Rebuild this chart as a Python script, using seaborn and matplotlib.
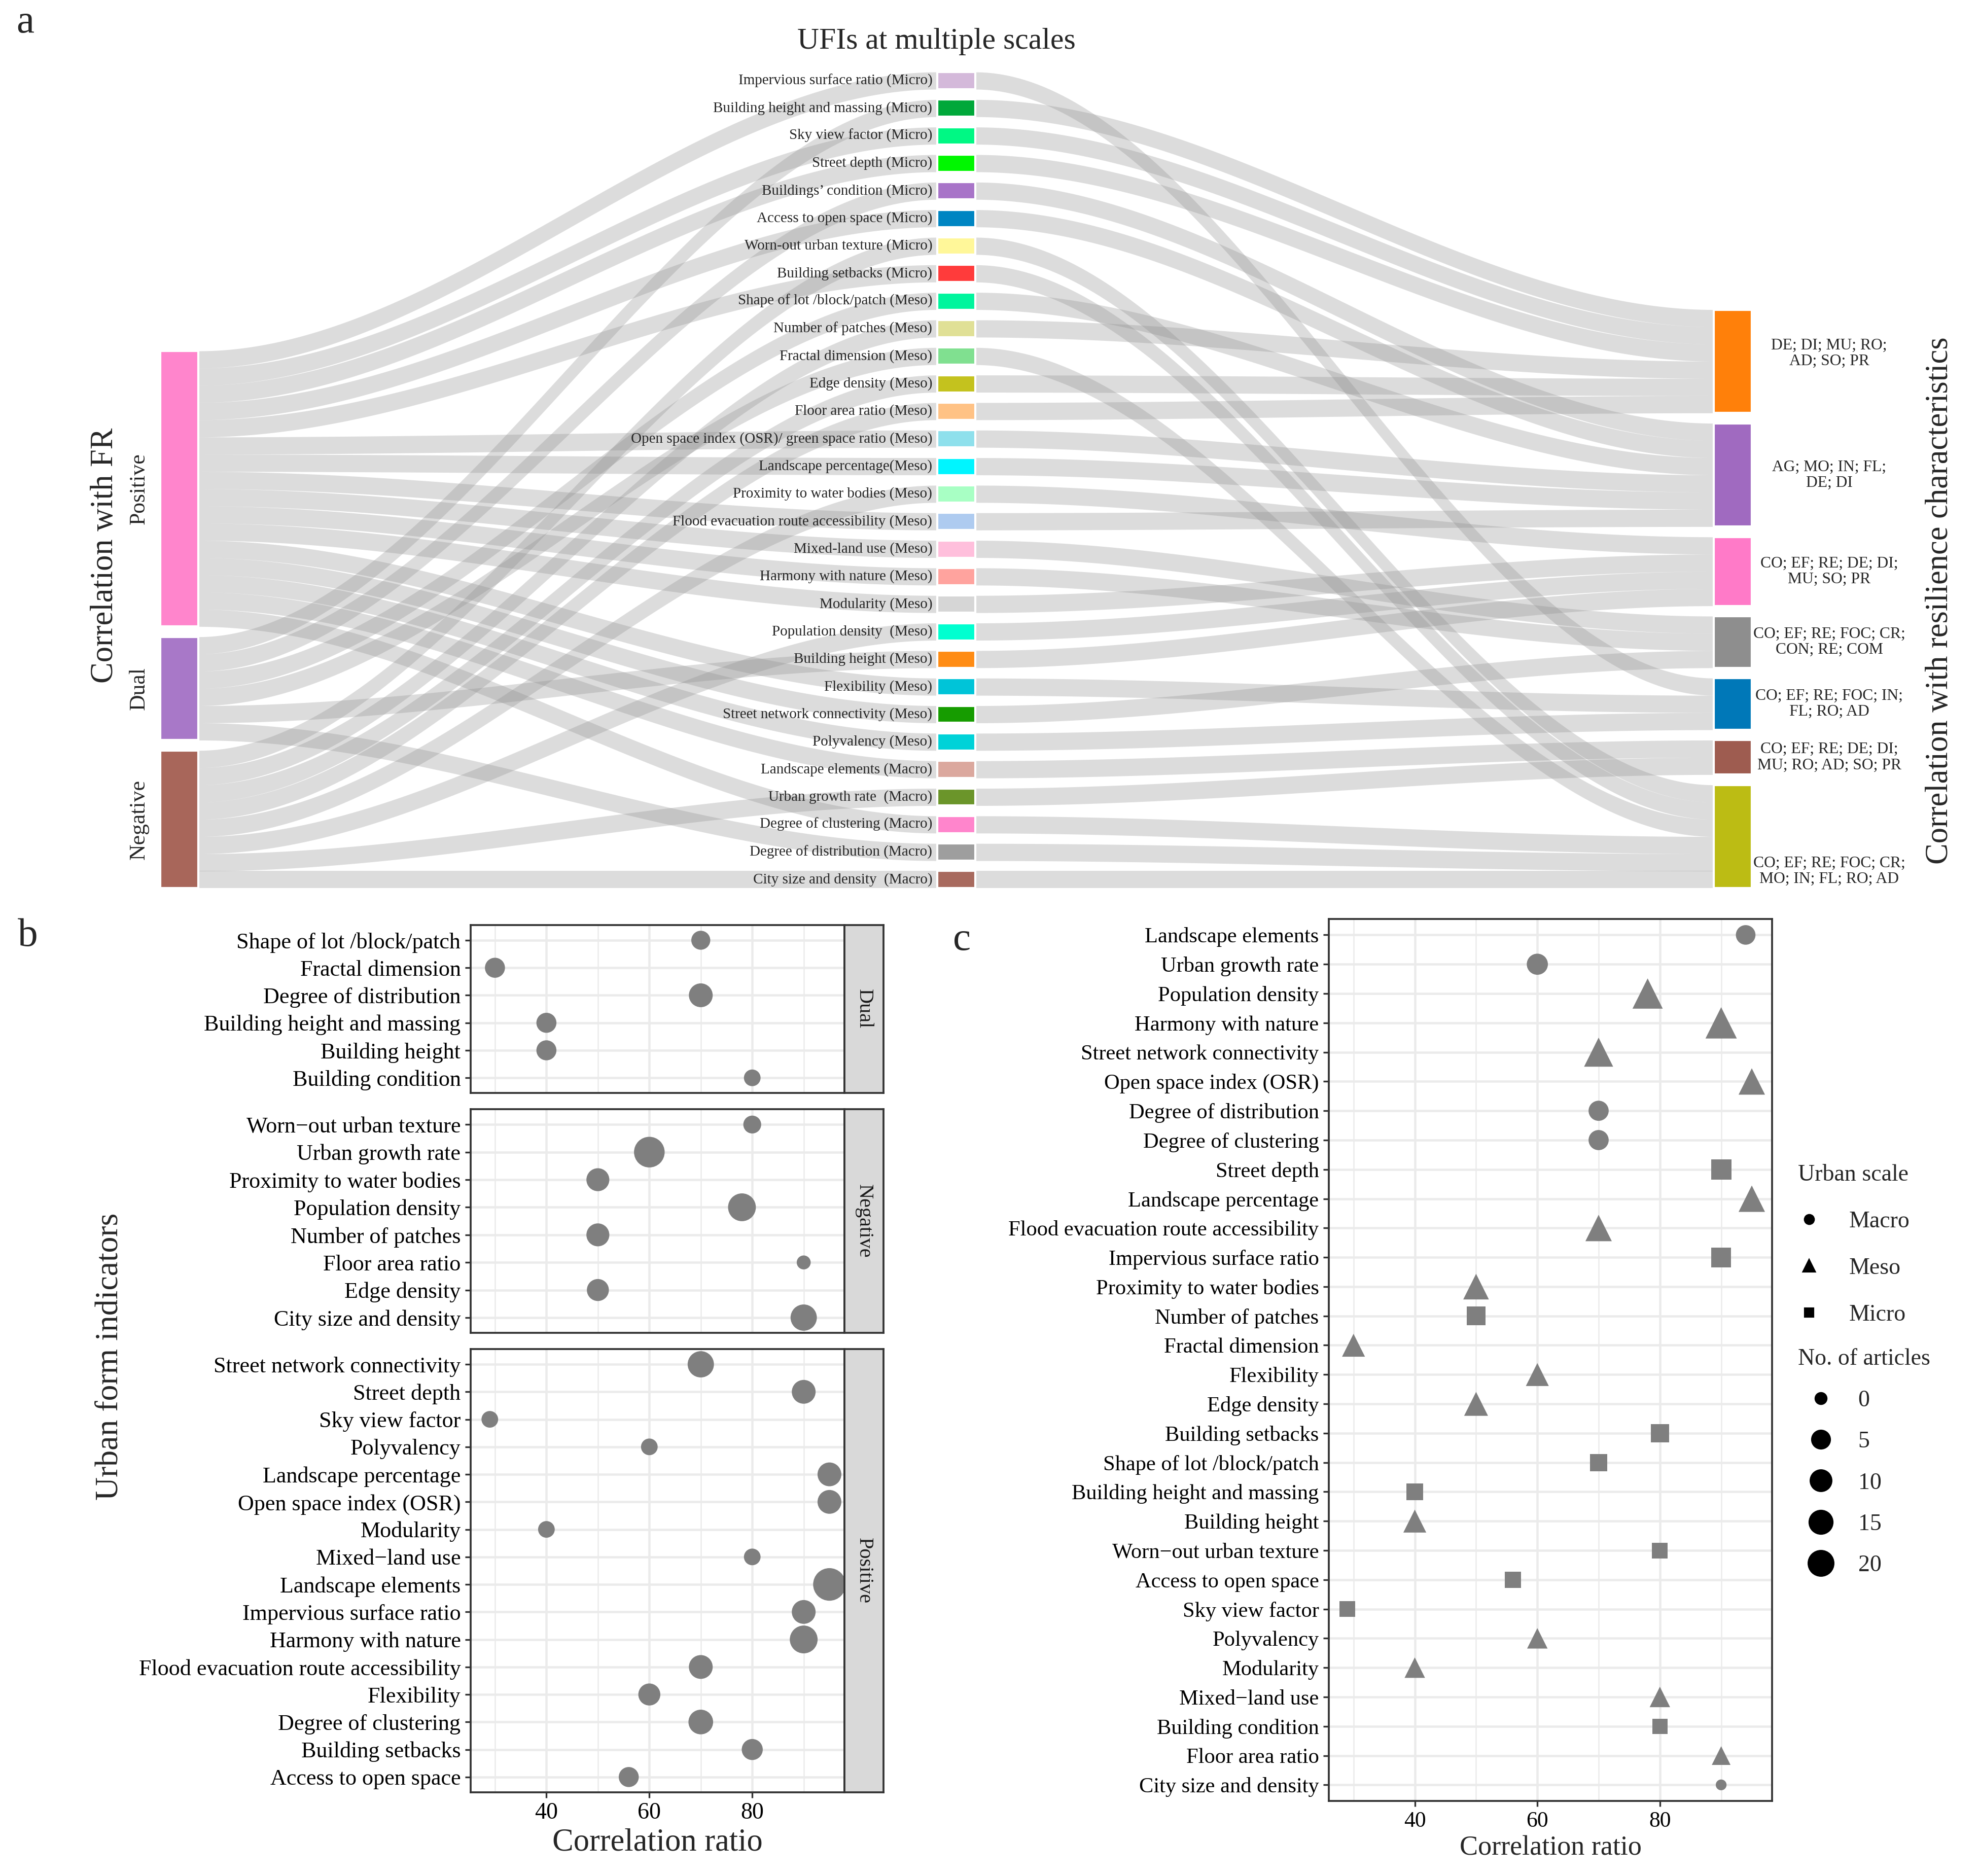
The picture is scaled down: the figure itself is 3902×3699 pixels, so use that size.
import numpy as np
import pandas as pd
import seaborn as sns
import matplotlib.pyplot as plt
from matplotlib.lines import Line2D

# ---------------- panel a : UFIs linked to FR correlation and resilience groups
ufi_labels = [
    'Impervious surface ratio (Micro)', 'Building height and massing (Micro)',
    'Sky view factor (Micro)', 'Street depth (Micro)', 'Buildings\u2019 condition (Micro)',
    'Access to open space (Micro)', 'Worn-out urban texture (Micro)',
    'Building setbacks (Micro)', 'Shape of lot /block/patch (Meso)',
    'Number of patches (Meso)', 'Fractal dimension (Meso)', 'Edge density (Meso)',
    'Floor area ratio (Meso)', 'Open space index (OSR)/ green space ratio (Meso)',
    'Landscape percentage(Meso)', 'Proximity to water bodies (Meso)',
    'Flood evacuation route accessibility (Meso)', 'Mixed-land use (Meso)',
    'Harmony with nature (Meso)', 'Modularity (Meso)', 'Population density  (Meso)',
    'Building height (Meso)', 'Flexibility (Meso)', 'Street network connectivity (Meso)',
    'Polyvalency (Meso)', 'Landscape elements (Macro)', 'Urban growth rate  (Macro)',
    'Degree of clustering (Macro)', 'Degree of distribution (Macro)',
    'City size and density  (Macro)']
ufi_colors = [
    '#d4b9da', '#00a83a', '#00f884', '#00f700', '#a874c8', '#0085c2', '#fff799',
    '#ff3b3b', '#00f59d', '#e0e096', '#80e090', '#c4c21e', '#ffc285', '#8ee0ec',
    '#00f5ff', '#a8ffc4', '#aecbf0', '#ffbfdc', '#ffa39e', '#d6d6d6', '#00ffd0',
    '#ff8c14', '#00c4d8', '#169c00', '#00d2d8', '#dba89e', '#6b952a', '#ff85cc',
    '#9e9e9e', '#a86a5e']
ufi_fr = [
    'Positive', 'Dual', 'Positive', 'Positive', 'Dual', 'Positive', 'Negative',
    'Positive', 'Dual', 'Negative', 'Dual', 'Negative', 'Negative', 'Positive',
    'Positive', 'Negative', 'Positive', 'Positive', 'Positive', 'Positive',
    'Negative', 'Dual', 'Positive', 'Positive', 'Positive', 'Positive', 'Negative',
    'Positive', 'Dual', 'Negative']
ufi_res = [4, 0, 0, 0, 1, 1, 6, 6, 1, 0, 6, 0, 0, 1, 1, 2, 1, 3, 3, 2, 2, 2, 4, 3,
           4, 5, 5, 6, 6, 6]
fr_groups = ['Positive', 'Dual', 'Negative']
fr_colors = ['#ff85cc', '#a878c8', '#a8665a']
res_labels = [
    'DE; DI; MU; RO;\nAD; SO; PR', 'AG; MO; IN; FL;\nDE; DI',
    'CO; EF; RE; DE; DI;\nMU; SO; PR', 'CO; EF; RE; FOC; CR;\nCON; RE; COM',
    'CO; EF; RE; FOC; IN;\nFL; RO; AD', 'CO; EF; RE; DE; DI;\nMU; RO; AD; SO; PR',
    'CO; EF; RE; FOC; CR;\nMO; IN; FL; RO; AD']
res_colors = ['#ff800a', '#a06ac0', '#ff7ac8', '#8e8e8e', '#0078b8', '#9e5c50', '#bcbc14']

# ---------------- panel b : correlation ratio by FR type
dual_items = ['Shape of lot /block/patch', 'Fractal dimension', 'Degree of distribution',
              'Building height and massing', 'Building height', 'Building condition']
dual_ratio = [70, 30, 70, 40, 40, 80]
dual_articles = [5, 6, 10, 6, 6, 3]
neg_items = ['Worn\u2212out urban texture', 'Urban growth rate', 'Proximity to water bodies',
             'Population density', 'Number of patches', 'Floor area ratio', 'Edge density',
             'City size and density']
neg_ratio = [80, 60, 50, 78, 50, 90, 50, 90]
neg_articles = [4, 19, 9, 15, 9, 1, 8, 13]
pos_items = ['Street network connectivity', 'Street depth', 'Sky view factor', 'Polyvalency',
             'Landscape percentage', 'Open space index (OSR)', 'Modularity',
             'Mixed\u2212land use', 'Landscape elements', 'Impervious surface ratio',
             'Harmony with nature', 'Flood evacuation route accessibility', 'Flexibility',
             'Degree of clustering', 'Building setbacks', 'Access to open space']
pos_ratio = [70, 90, 29, 60, 95, 95, 40, 80, 95, 90, 90, 70, 60, 70, 80, 56]
pos_articles = [13, 10, 3, 3, 10, 10, 3, 3, 22, 10, 15, 10, 8, 11, 7, 6]

# ---------------- panel c : correlation ratio by urban scale
c_items = ['Landscape elements', 'Urban growth rate', 'Population density',
           'Harmony with nature', 'Street network connectivity', 'Open space index (OSR)',
           'Degree of distribution', 'Degree of clustering', 'Street depth',
           'Landscape percentage', 'Flood evacuation route accessibility',
           'Impervious surface ratio', 'Proximity to water bodies', 'Number of patches',
           'Fractal dimension', 'Flexibility', 'Edge density', 'Building setbacks',
           'Shape of lot /block/patch', 'Building height and massing', 'Building height',
           'Worn\u2212out urban texture', 'Access to open space', 'Sky view factor',
           'Polyvalency', 'Modularity', 'Mixed\u2212land use', 'Building condition',
           'Floor area ratio', 'City size and density']
c_ratio = [94, 60, 78, 90, 70, 95, 70, 70, 90, 95, 70, 90, 50, 50, 30, 60, 50, 80, 70,
           40, 40, 80, 56, 29, 60, 40, 80, 80, 90, 90]
c_scale = ['Macro', 'Macro', 'Meso', 'Meso', 'Meso', 'Meso', 'Macro', 'Macro', 'Micro',
           'Meso', 'Meso', 'Micro', 'Meso', 'Micro', 'Meso', 'Meso', 'Meso', 'Micro',
           'Micro', 'Micro', 'Meso', 'Micro', 'Micro', 'Micro', 'Meso', 'Meso', 'Meso',
           'Micro', 'Meso', 'Macro']
c_articles = [8, 11, 14, 16, 12, 8, 9, 9, 15, 8, 8, 14, 7, 11, 4, 4, 5, 10, 8, 7, 4, 5,
              6, 5, 2, 2, 2, 4, 1, 0]
scale_levels = ['Macro', 'Meso', 'Micro']
size_breaks = [0, 5, 10, 15, 20]

# ------------------------------------------------------------------ figure
sns.set_theme(style='white')
plt.rcParams['font.family'] = ['Liberation Serif', 'DejaVu Serif']

W, H, DPI = 3902, 3699, 300
SW = 1568.0                        # layout measured on a 1568 px wide preview
SH = H * SW / W
fig = plt.figure(figsize=(W / DPI, H / DPI), dpi=DPI)
fig.patch.set_facecolor('white')


def fbox(x0, y0, x1, y1):
    return [x0 / SW, 1 - y1 / SH, (x1 - x0) / SW, (y1 - y0) / SH]


# ---------------- panel a
ax_a = fig.add_axes(fbox(0, 40, SW, 712))
ax_a.axis('off')
gap = 0.6
node_w = 0.049
n_ufi = len(ufi_labels)
span = n_ufi + (n_ufi - 1) * gap
mid_top = np.arange(n_ufi) * (1 + gap)


def column_tops(n_groups, member_of):
    counts = [sum(1 for m in member_of if m == g) for g in range(n_groups)]
    height = sum(counts) + (n_groups - 1) * gap
    tops, y = [], span - height
    for c in counts:
        tops.append(y)
        y += c + gap
    return tops, counts


fr_idx = [fr_groups.index(f) for f in ufi_fr]
left_top, left_cnt = column_tops(len(fr_groups), fr_idx)
right_top, right_cnt = column_tops(len(res_labels), ufi_res)

t = np.linspace(0, 1, 120)
ease = 3 * t ** 2 - 2 * t ** 3


def flow(xa, xb, ya, yb):
    yy = ya + (yb - ya) * ease
    ax_a.fill_between(xa + (xb - xa) * t, yy, yy + 1, color='#8f8f8f', alpha=0.31,
                      lw=0, zorder=1)


for i in range(n_ufi):
    g = fr_idx[i]
    k = sum(1 for j in range(i) if fr_idx[j] == g)
    flow(node_w / 2, 1 - node_w / 2, left_top[g] + k, mid_top[i])
    r = ufi_res[i]
    k = sum(1 for j in range(i) if ufi_res[j] == r)
    flow(1 + node_w / 2, 2 - node_w / 2, mid_top[i], right_top[r] + k)

ax_a.bar([0] * len(fr_groups), left_cnt, bottom=left_top, width=node_w,
         color=fr_colors, align='center', zorder=3)
ax_a.bar([1] * n_ufi, [1] * n_ufi, bottom=mid_top, width=node_w, color=ufi_colors,
         zorder=3)
ax_a.bar([2] * len(res_labels), right_cnt, bottom=right_top, width=node_w,
         color=res_colors, zorder=3)

for i, lab in enumerate(ufi_labels):
    ax_a.text(1 - node_w / 2 - 0.006, mid_top[i] + 0.5, lab, ha='right', va='center',
              fontsize=7, zorder=4)
for g, lab in enumerate(fr_groups):
    ax_a.text(-0.052, left_top[g] + left_cnt[g] / 2, lab, rotation=90, ha='center',
              va='center', fontsize=10.5)
res_label_dy = [-0.45, 0, 0, 0, 0, 0, 2.0]
for r, lab in enumerate(res_labels):
    ax_a.text(2.124, right_top[r] + right_cnt[r] / 2 + res_label_dy[r], lab, ha='center',
              va='center', fontsize=7.6, linespacing=1.1)

ax_a.set_xlim(-142 / 615.5, (SW - 142) / 615.5)
ax_a.set_ylim(span + 0.6, -1.25)

fig.text(742 / SW, 1 - 33 / SH, 'UFIs at multiple scales', ha='center', va='center',
         fontsize=14.3)
fig.text(83 / SW, 1 - 440 / SH, 'Correlation with FR', rotation=90, ha='center',
         va='center', fontsize=15)
fig.text(1537 / SW, 1 - 476 / SH, 'Correlation with resilience characteristics',
         rotation=90, ha='center', va='center', fontsize=15)


# ---------------- panels b and c helpers
def style_dot_axes(ax, n, xlim, labels, fs):
    ax.set_xlim(*xlim)
    ax.set_ylim(n - 0.45, -0.55)
    ax.set_yticks(range(n))
    ax.set_yticklabels(labels, fontsize=fs, color='black')
    ax.set_xticks([40, 60, 80])
    ax.set_xticks([30, 50, 70, 90], minor=True)
    ax.grid(True, which='major', color='#ebebeb', lw=1.1)
    ax.grid(True, which='minor', axis='x', color='#ebebeb', lw=0.6)
    ax.set_axisbelow(True)
    for sp in ax.spines.values():
        sp.set_color('#333333')
        sp.set_linewidth(0.9)
    ax.tick_params(which='major', length=2.75, width=0.8, color='#333333', pad=2,
                   left=True, bottom=True)
    ax.tick_params(which='minor', length=0)
    ax.set_xlabel('')
    ax.set_ylabel('')


# ---------------- panel b
b_facets = [('Dual', dual_items, dual_ratio, dual_articles, (733, 866)),
            ('Negative', neg_items, neg_ratio, neg_articles, (879, 1056)),
            ('Positive', pos_items, pos_ratio, pos_articles, (1069, 1420))]
for fi, (name, items, ratio, arts, (y0, y1)) in enumerate(b_facets):
    ax = fig.add_axes(fbox(373, y0, 669, y1))
    df = pd.DataFrame({'pos': range(len(items)), 'ratio': ratio, 'articles': arts})
    sns.scatterplot(data=df, x='ratio', y='pos', size='articles', sizes=(43.6, 238),
                    size_norm=(1, 22), color='#7f7f7f', edgecolor='none', linewidth=0,
                    legend=False, ax=ax, zorder=3)
    style_dot_axes(ax, len(items), (25.3, 97.9), items, 10.6)
    if fi < 2:
        ax.tick_params(axis='x', which='both', length=0, labelbottom=False)
    else:
        ax.tick_params(axis='x', labelsize=11, colors='black')
        ax.tick_params(axis='x', color='#333333')
        ax.set_xlabel('Correlation ratio', fontsize=15, labelpad=2)
    sax = fig.add_axes(fbox(669, y0, 700, y1))
    sax.set_facecolor('#d9d9d9')
    sax.set_xticks([])
    sax.set_yticks([])
    for sp in sax.spines.values():
        sp.set_color('#333333')
        sp.set_linewidth(0.9)
    sax.text(0.5, 0.5, name, rotation=-90, ha='center', va='center', fontsize=9.7,
             color='#1a1a1a', transform=sax.transAxes)

fig.text(87 / SW, 1 - 1075 / SH, 'Urban form indicators', rotation=90, ha='center',
         va='center', fontsize=15.3)

# ---------------- panel c
ax_c = fig.add_axes(fbox(1053, 728, 1404, 1427))
dfc = pd.DataFrame({'pos': range(len(c_items)), 'ratio': c_ratio, 'scale': c_scale,
                    'articles': c_articles})
shape_of = {'Macro': ('o', 1.0), 'Meso': ('^', 1.347), 'Micro': ('s', 0.886)}


def diam(v):
    return 8.5 + 11 * np.sqrt(v / 20)   # ggplot area palette, preview px


for sc in scale_levels:
    mk, fac = shape_of[sc]
    sub = dfc[dfc['scale'] == sc]
    szs = {v: (0.6 * fac * diam(v)) ** 2 for v in sub['articles'].unique()}
    sns.scatterplot(data=sub, x='ratio', y='pos', size='articles', sizes=szs,
                    marker=mk, color='#7f7f7f', edgecolor='none', linewidth=0,
                    legend=False, ax=ax_c, zorder=3)
style_dot_axes(ax_c, len(c_items), (26, 98.3), c_items, 10.2)
ax_c.tick_params(axis='x', labelsize=10.5, colors='black')
ax_c.tick_params(axis='x', color='#333333')
ax_c.set_xlabel('Correlation ratio', fontsize=13, labelpad=2)

scale_handles = [Line2D([], [], marker=shape_of[s][0], ls='', color='black',
                        markersize=4.2 * shape_of[s][1] ** 0.7) for s in scale_levels]
fig.legend(scale_handles, scale_levels, title='Urban scale', loc='upper left',
           bbox_to_anchor=(1417 / SW, 1 - 915 / SH), frameon=False, fontsize=11,
           title_fontsize=11, alignment='left', labelspacing=1.08, handletextpad=1.2,
           handlelength=1.0, borderaxespad=0)
size_handles = [Line2D([], [], marker='o', ls='', color='black',
                       markersize=0.6 * diam(v)) for v in size_breaks]
fig.legend(size_handles, [str(v) for v in size_breaks], title='No. of articles',
           loc='upper left', bbox_to_anchor=(1417 / SW, 1 - 1061 / SH), frameon=False,
           fontsize=11, title_fontsize=11, alignment='left', labelspacing=0.85,
           handletextpad=0.6, handlelength=2.0, borderaxespad=0)

# panel letters
fig.text(20 / SW, 1 - 18 / SH, 'a', ha='center', va='center', fontsize=19)
fig.text(22 / SW, 1 - 742 / SH, 'b', ha='center', va='center', fontsize=19)
fig.text(762 / SW, 1 - 745 / SH, 'c', ha='center', va='center', fontsize=19)

fig.savefig('out.png', dpi=DPI)
